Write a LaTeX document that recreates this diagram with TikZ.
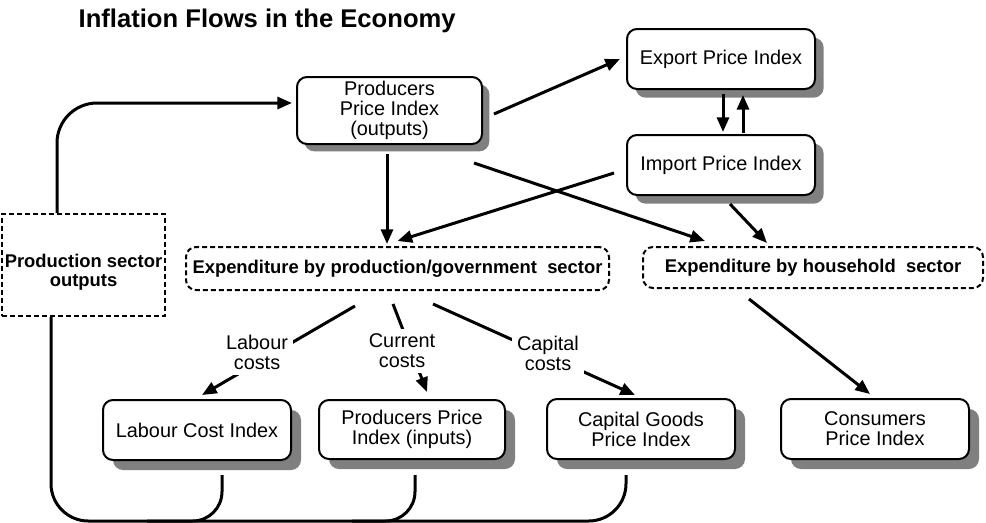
\documentclass[tikz,border=0pt]{standalone}
\usepackage{fontspec}
\setmainfont{Liberation Sans}
\usetikzlibrary{arrows.meta,calc,shadows}
\begin{document}
\begin{tikzpicture}[x=0.75pt,y=-0.75pt,
  regf/.style={font=\fontsize{14.9pt}{15pt}\selectfont},
  boldf/.style={font=\bfseries\fontsize{13.8pt}{14.25pt}\selectfont},
  idx/.style={draw=black, line width=1.5pt, fill=white, rounded corners=7.5pt,
    align=center, regf, inner sep=0pt, minimum width=141pt, minimum height=45pt,
    drop shadow={fill=gray, opacity=1, shadow xshift=#1, shadow yshift=-#1}},
  idx/.default=7.5pt,
  sect/.style={draw=black, line width=1.5pt, dash pattern=on 3.75pt off 2.25pt,
    rounded corners=7.5pt, align=center, boldf, inner sep=0pt},
  conn/.style={line width=2.25pt},
  arr/.style={conn, -{Triangle[length=11pt,width=9pt]}},
  lbl/.style={regf, align=center, fill=white, inner sep=4pt}
]
\useasboundingbox (0,0) rectangle (986,522);

\node[font=\bfseries\fontsize{19.2pt}{22pt}\selectfont, anchor=base west] (title) at (74,27) {Inflation Flows in the Economy};

\node[idx=5.5pt, minimum width=138.75pt, minimum height=50.25pt] (ppiout) at (389.5,110.5) {Producers\\Price Index\\(outputs)};
\node[idx=6.5pt] (export) at (721,59) {Export Price Index};
\node[idx=6.5pt] (import) at (721,165) {Import Price Index};
\node[idx] (labour) at (197,430) {Labour Cost Index};
\node[idx, minimum width=139.5pt, minimum height=44.25pt] (ppiin) at (412,429.5) {Producers Price\\Index (inputs)};
\node[idx] (capital) at (641,429) {Capital Goods\\Price Index};
\node[idx] (consumers) at (875,429) {Consumers\\Price Index};

\node[sect, minimum width=317.25pt, minimum height=32.25pt] (expgov) at (397.5,268.5) {Expenditure by production/government\ \ sector};
\node[sect, minimum width=255pt, minimum height=30.75pt] (exphh) at (813,267.5) {Expenditure by household\ \ sector};
\node[sect, sharp corners, minimum width=122.25pt, minimum height=76.5pt] (prodout) at (83.5,265) {};
\node[boldf, align=center, inner sep=0pt] (prodtxt) at (83.5,272) {Production sector\\outputs};

% feedback loops
\draw[arr, rounded corners=30pt] ($(prodout.north west)+(56,0)$) |- ($(ppiout.west)+(-4,-7.5)$);
\draw[conn, rounded corners=28pt] ($(capital.south)+(-15,15)$) -- ($(capital.south)+(-15,61)$) -- ($(prodout.south west)+(50,204)$) -- ($(prodout.south west)+(50,0)$);
\draw[conn, rounded corners=22pt] ($(labour.south)+(25,14)$) |- ($(labour.south)+(-50,60)$);
\draw[conn, rounded corners=22pt] ($(ppiin.south)+(3,15)$) |- ($(ppiin.south)+(-60,61)$);

% top connectors
\draw[arr] ($(ppiout.east)+(11,3.5)$) -- ($(export.west)+(-6,0)$);
\draw[arr] ($(export.south)+(2,4)$) -- ($(import.north)+(2,-2)$);
\draw[arr] ($(import.north)+(22,-1)$) -- ($(export.south)+(22,5)$);
\draw[arr] ($(ppiout.south)+(-2.5,9)$) -- ($(expgov.north)+(-10.5,-2)$);
\draw[arr] ($(import.west)+(-12,8)$) -- ($(expgov.north)+(0,-5)$);
\draw[arr] ($(ppiout.south east)+(-9,18)$) -- ($(exphh.north)+(-108,-5)$);
\draw[arr] ($(import.south)+(9,8)$) -- ($(exphh.north)+(-46,-3)$);
\draw[arr] ($(exphh.south)+(-64,10)$) -- ($(consumers.north)+(-5,-4)$);

% cost connectors
\draw[arr] ($(expgov.south)+(-42.5,15)$) -- ($(labour.north)+(5,-4)$);
\draw[arr] ($(expgov.south)+(-4.5,13)$) -- ($(ppiin.north)+(15,-7)$);
\draw[arr] ($(expgov.south)+(35.5,13)$) -- ($(capital.north)+(-6,-3)$);

\node[lbl] (lablab) at (257,352.5) {Labour\\costs};
\node[lbl] (curlab) at (402,351) {Current\\costs};
\node[lbl] (caplab) at (548,353.5) {Capital\\costs};
\end{tikzpicture}
\end{document}
